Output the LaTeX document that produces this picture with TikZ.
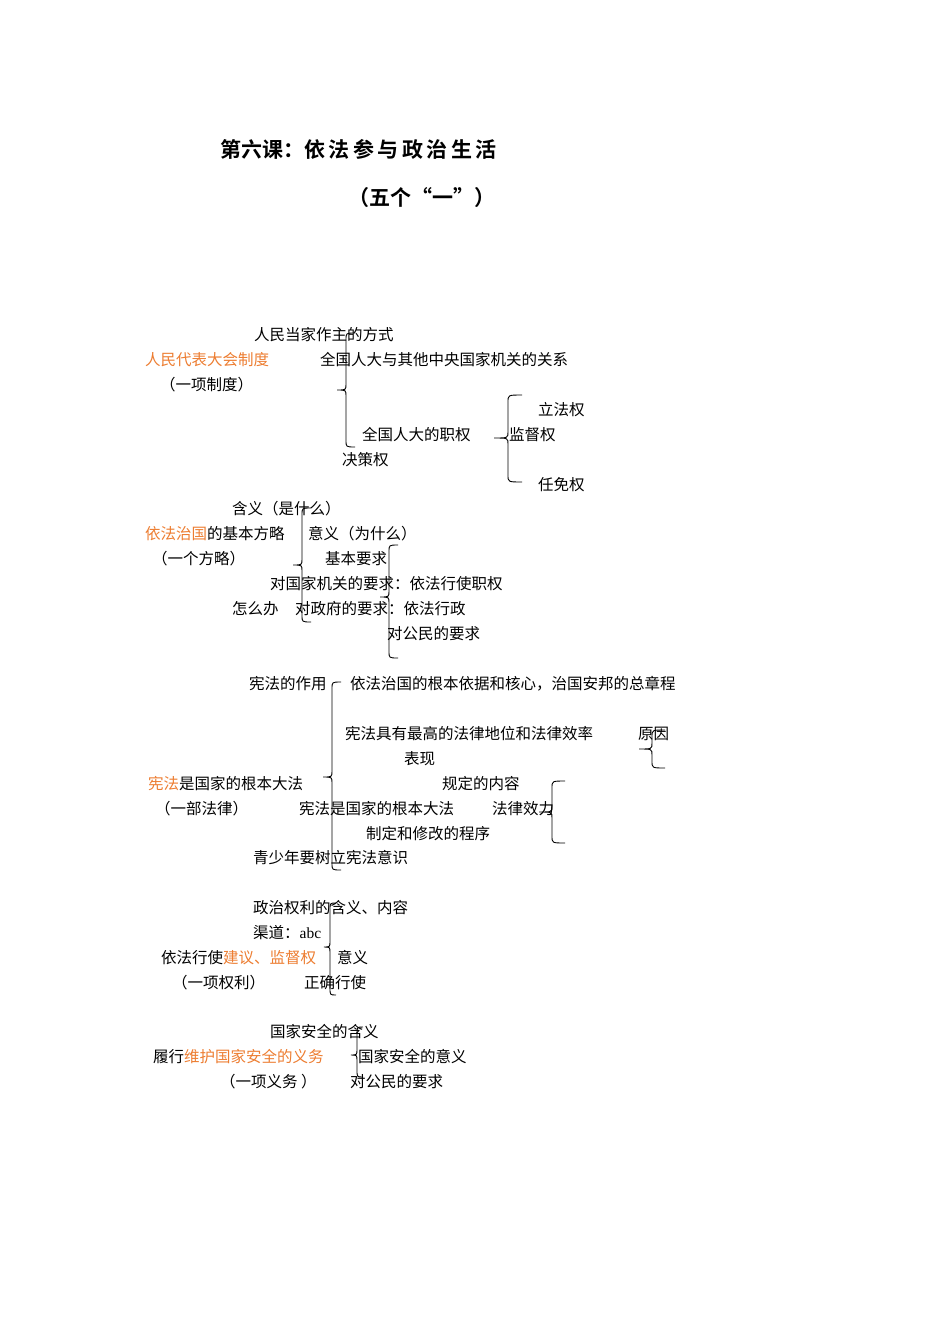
\documentclass[tikz,border=0pt]{standalone}
\usepackage{fontspec}
\setmainfont{Liberation Serif}
\newfontfamily\cjk[BoldFont={Noto Sans CJK SC Bold}]{Noto Sans CJK SC}
\definecolor{org}{RGB}{237,125,49}
\newcommand\mybrace[5]{\draw[line width=0.9pt] ({#1+#5},#2) .. controls (#1,#2) .. (#1,{#2+7}) -- (#1,{#3-6}) .. controls (#1,#3) .. ({#1-#5},#3) .. controls (#1,#3) .. (#1,{#3+6}) -- (#1,{#4-7}) .. controls (#1,#4) .. ({#1+#5},#4);}
\begin{document}
\begin{tikzpicture}[x=1pt,y=-1pt,
  t/.style={anchor=west,inner sep=0pt,font=\cjk\fontsize{15.5}{16}\selectfont}]
\useasboundingbox[fill=white] (0,0) rectangle (950,1344);
\node[anchor=west,inner sep=0pt,font=\cjk\bfseries\fontsize{21}{22}\selectfont] (title) at (220,149) {第六课：依\,法\,参\,与\,政\,治\,生\,活};
\node[inner sep=0pt,font=\cjk\bfseries\fontsize{21}{22}\selectfont] (sub) at (422,198) {（五个“一”）};
% section 1
\node[t] (a1) at (254,335) {人民当家作主的方式};
\node[t,text=org] (a0) at (145,360) {人民代表大会制度};
\node[t] (a2) at (320,360) {全国人大与其他中央国家机关的关系};
\node[t] (a0b) at (160,385) {（一项制度）};
\node[t] (a3) at (538,410) {立法权};
\node[t] (a4) at (362,435) {全国人大的职权};
\node[t] (a5) at (509,435) {监督权};
\node[t] (a6) at (342,460) {决策权};
\node[t] (a7) at (538,485) {任免权};
% section 2
\node[t] (b1) at (232,509) {含义（是什么）};
\node[t] (b0) at (145,534) {\textcolor{org}{依法治国}的基本方略};
\node[t] (b2) at (308,534) {意义（为什么）};
\node[t] (b0b) at (152,559) {（一个方略）};
\node[t] (b3) at (325,559) {基本要求};
\node[t] (b4) at (270,584) {对国家机关的要求：依法行使职权};
\node[t] (b5) at (232,609) {怎么办};
\node[t] (b6) at (295,609) {对政府的要求：依法行政};
\node[t] (b7) at (387,634) {对公民的要求};
% section 3
\node[t] (c1) at (249,684) {宪法的作用};
\node[t] (c2) at (350,684) {依法治国的根本依据和核心，治国安邦的总章程};
\node[t] (c3) at (345,734) {宪法具有最高的法律地位和法律效率};
\node[t] (c4) at (638,734) {原因};
\node[t] (c5) at (404,759) {表现};
\node[t] (c0) at (148,784) {\textcolor{org}{宪法}是国家的根本大法};
\node[t] (c6) at (442,784) {规定的内容};
\node[t] (c0b) at (155,809) {（一部法律）};
\node[t] (c7) at (299,809) {宪法是国家的根本大法};
\node[t] (c8) at (492,809) {法律效力};
\node[t] (c9) at (366,834) {制定和修改的程序};
\node[t] (c10) at (253,858) {青少年要树立宪法意识};
% section 4
\node[t] (d1) at (253,908) {政治权利的含义、内容};
\node[t] (d2) at (253,933) {渠道：{\rmfamily abc}};
\node[t] (d0) at (161,958) {依法行使\textcolor{org}{建议、监督权}};
\node[t] (d3) at (337,958) {意义};
\node[t] (d0b) at (172,983) {（一项权利）};
\node[t] (d4) at (304,983) {正确行使};
% section 5
\node[t] (e1) at (270,1032) {国家安全的含义};
\node[t] (e0) at (153,1057) {履行\textcolor{org}{维护国家安全的义务}};
\node[t] (e2) at (358,1057) {国家安全的意义};
\node[t] (e0b) at (220,1082) {（一项义务 ）};
\node[t] (e3) at (350,1082) {对公民的要求};
% braces
\mybrace{346}{333}{390}{447}{9}
\mybrace{508}{395}{438}{482}{14}
\mybrace{302}{508}{565}{622}{9}
\mybrace{389}{545}{597}{658}{9}
\mybrace{332}{682}{777}{870}{9}
\mybrace{652}{730}{749}{768}{13}
\mybrace{552}{781}{812}{843}{13}
\mybrace{330}{903}{947}{995}{6}
\mybrace{357}{1027}{1055}{1077}{6}
\end{tikzpicture}
\end{document}
